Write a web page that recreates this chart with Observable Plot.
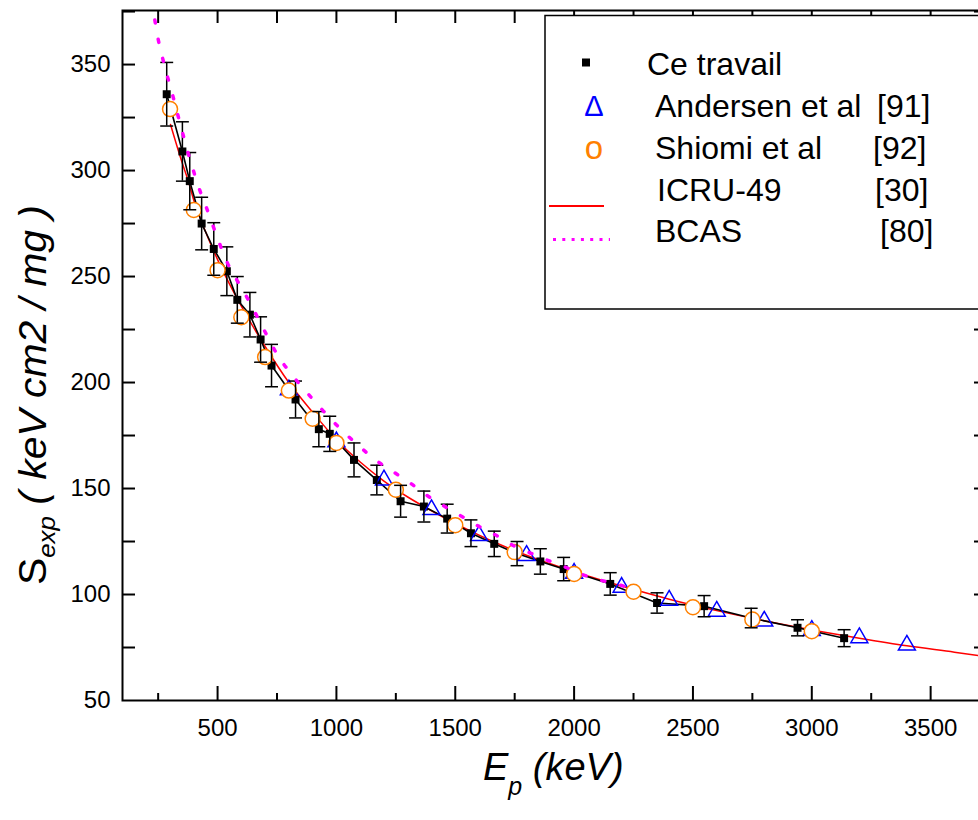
<!DOCTYPE html>
<html><head><meta charset="utf-8">
<script src="https://cdn.jsdelivr.net/npm/d3@7"></script>
<script src="https://cdn.jsdelivr.net/npm/@observablehq/plot@0.6"></script>
<style>
html,body{margin:0;padding:0;background:#fff;overflow:hidden;}
#chart svg{overflow:hidden;display:block;}
</style>
</head><body><div id="chart"></div>
<script>
// ---- Data ----
// Ce travail (this work) with error bars
const ceE   = [286, 352, 383, 433, 484, 539, 583, 636, 681, 727, 828, 926, 972, 1074, 1170, 1270, 1368, 1466, 1566, 1664, 1760, 1858, 1956, 2152, 2349, 2547, 2745, 2940, 3136];
const ceS   = [336, 309, 295, 275, 263, 252.5, 239, 232, 220.3, 208, 192, 178, 175.8, 163.5, 154, 144, 141.5, 135.8, 128.9, 123.9, 119.3, 115.6, 112, 105, 96, 94.5, 88.9, 84.3, 79.4];
const ceErr = [15, 14, 13.5, 12.4, 12.4, 11.5, 11, 10.5, 10.7, 10, 8.7, 8.3, 8.3, 8, 7, 7.5, 7.3, 6.8, 6.3, 6, 5.7, 6, 5.5, 5.3, 4.8, 5, 4.6, 3.8, 4];
// Andersen et al [91]
const andE = [800, 1000, 1200, 1400, 1600, 1800, 2000, 2200, 2400, 2600, 2800, 3000, 3200, 3400];
const andS = [196.5, 172, 154, 140, 127.8, 118.4, 110, 103.4, 97.3, 92.1, 87.4, 83, 79.6, 76.1];
// Shiomi et al [92]
const shiE = [300, 400, 500, 600, 700, 800, 900, 1000, 1250, 1500, 1750, 2000, 2250, 2500, 2750, 3000];
const shiS = [329, 281.4, 253, 230.8, 212, 196.2, 182.9, 171.5, 149.4, 132.7, 120, 109.7, 101.3, 94, 88.2, 82.7];
// ICRU-49 [30]
const icruE = [302, 350, 376, 400, 450, 500, 600, 700, 800, 900, 1000, 1100, 1200, 1300, 1400, 1500, 1600, 1700, 1800, 1900, 2000, 2200, 2400, 2600, 2800, 3000, 3200, 3400, 3600, 3714];
const icruS = [321.7, 304, 295.3, 286, 271, 258, 236, 217, 200, 186, 173, 162.5, 153.5, 146, 139.5, 133.5, 128, 123, 118.5, 114.5, 110.7, 104, 97.8, 92.4, 87.6, 83.3, 79.4, 75.8, 72.8, 71.0];
// BCAS [80]
const bcasE = [236, 250, 267, 288, 310, 330, 351, 372, 395, 421, 450, 478, 507, 539, 583, 628, 668, 710, 752, 808, 876, 946, 1018, 1090, 1164, 1238, 1311, 1383, 1456, 1528, 1602, 1674, 1746, 1819, 1892, 1963, 2036, 2109, 2183, 2256];
const bcasS = [371, 362, 353.8, 344.8, 336, 327.4, 318.5, 309.9, 301.2, 292, 283.5, 274.8, 266, 257, 248, 239.3, 230.8, 221.7, 213, 204.3, 195.3, 186.4, 178, 170.6, 163.5, 158, 152.5, 146.6, 141.5, 136.8, 132, 127.8, 123, 119.4, 116, 112.9, 109.4, 106.8, 104.8, 102];
// Axes
const xTicks = [500, 1000, 1500, 2000, 2500, 3000, 3500];
const xMinor = [250, 750, 1250, 1750, 2250, 2750, 3250];
const xTop   = [250, 500, 750, 1000, 1250, 1500, 1750, 2000, 2250, 2500, 2750, 3000, 3250, 3500];
const yTicks = [50, 100, 150, 200, 250, 300, 350];
const yAll   = [75, 100, 125, 150, 175, 200, 225, 250, 275, 300, 325, 350, 375];
const legendNames = ["Ce travail", "Andersen et al", "Shiomi et al", "ICRU-49", "BCAS"];
const legendRefs  = ["", "[91]", "[92]", "[30]", "[80]"];

// ---- tables ----
const ce   = ceE.map((E, i) => ({E, S: ceS[i], err: ceErr[i]}));
const and  = andE.map((E, i) => ({E, S: andS[i]}));
const shi  = shiE.map((E, i) => ({E, S: shiS[i]}));
const icru = icruE.map((E, i) => ({E, S: icruS[i]}));
const bcas = bcasE.map((E, i) => ({E, S: bcasS[i]}));

const FONT = "'Liberation Sans', Arial, Helvetica, sans-serif";
const W = 978, H = 820, ML = 122, MT = 10, MB = 120, MR = -3;
const FW = W - ML - MR, FH = H - MT - MB;

const capSymbol = {draw(ctx, size) { const w = Math.sqrt(size) / 2; ctx.moveTo(-w, 0); ctx.lineTo(w, 0); }};

const plot = Plot.plot({
  width: W, height: H,
  marginLeft: ML, marginTop: MT, marginBottom: MB, marginRight: MR,
  style: {fontFamily: FONT, background: "white", overflow: "hidden"},
  x: {domain: [100, 3714]},
  y: {domain: [50, 375.5]},
  marks: [
    Plot.line(icru, {x: "E", y: "S", stroke: "#ff0000", strokeWidth: 1.5, curve: "monotone-x", clip: true}),
    Plot.line(ce, {x: "E", y: "S", stroke: "black", strokeWidth: 1.6}),
    Plot.dot(ce, {x: "E", y: "S", symbol: "square", r: 4.5, fill: "black"}),
    Plot.dot(and, {x: "E", y: "S", symbol: "triangle", r: 6.3, stroke: "#0000ff", strokeWidth: 1.5, fill: "none"}),
    Plot.dot(shi, {x: "E", y: "S", r: 7.5, stroke: "#ff8000", strokeWidth: 1.5, fill: "white"}),
    Plot.ruleX(ce, {x: "E", y1: d => d.S - d.err, y2: d => d.S + d.err, stroke: "black", strokeWidth: 1.5}),
    Plot.dot(ce, {x: "E", y: d => d.S - d.err, symbol: capSymbol, r: 7.3, stroke: "black", strokeWidth: 1.5}),
    Plot.dot(ce, {x: "E", y: d => d.S + d.err, symbol: capSymbol, r: 7.3, stroke: "black", strokeWidth: 1.5}),
    Plot.line(bcas, {x: "E", y: "S", stroke: "#ff00ff", strokeWidth: 3.5, strokeDasharray: "3,16.5", curve: "monotone-x"}),
    // frame & ticks (inward)
    Plot.frame({stroke: "black", strokeWidth: 2}),
    Plot.tickX(xTicks, {x: d => d, insetTop: FH - 14, stroke: "black", strokeWidth: 2}),
    Plot.tickX(xMinor, {x: d => d, insetTop: FH - 7, stroke: "black", strokeWidth: 2}),
    Plot.tickX(xTop, {x: d => d, insetBottom: FH - 13, stroke: "black", strokeWidth: 2}),
    Plot.tickY(yAll, {y: d => d, insetRight: FW - 13, stroke: "black", strokeWidth: 2}),
    Plot.tickY(yAll, {y: d => d, insetLeft: FW - 7, stroke: "black", strokeWidth: 2}),
    Plot.axisX({ticks: xTicks, tickSize: 0, tickPadding: 18, tickFormat: d => String(d), fontSize: 24, label: null}),
    Plot.axisY({ticks: yTicks, tickSize: 0, tickPadding: 12, tickFormat: d => String(d), fontSize: 24, label: null})
  ]
});
document.getElementById("chart").appendChild(plot);

// ---- axis titles & legend (text) ----
const svg = d3.select(plot);
const xl = svg.append("text").attr("x", 483).attr("y", 780).attr("font-family", FONT)
  .attr("text-anchor", "start").attr("font-style", "italic").attr("font-size", 38).attr("fill", "black");
xl.append("tspan").text("E");
xl.append("tspan").attr("font-size", 25).attr("dy", 15).text("p");
xl.append("tspan").attr("dy", -15).text(" (keV)");

const yl = svg.append("text").attr("transform", "translate(46,585) rotate(-90)")
  .attr("text-anchor", "start").attr("font-family", FONT).attr("font-size", 38).attr("fill", "black")
  .attr("textLength", 380).attr("lengthAdjust", "spacingAndGlyphs");
yl.append("tspan").text("S");
yl.append("tspan").attr("font-size", 24).attr("font-style", "italic").attr("dy", 9).text("exp");
yl.append("tspan").attr("font-style", "italic").attr("dy", -9).text(" ( keV cm2 / mg )");

const lg = svg.append("g").attr("font-family", FONT).attr("fill", "black").attr("text-anchor", "start");
lg.append("rect").attr("x", 545).attr("y", 15.5).attr("width", 520).attr("height", 293.5)
  .attr("fill", "white").attr("stroke", "black").attr("stroke-width", 1.5);
const base = [75, 117, 159, 201, 242];
const nameX = [647, 655, 655, 657, 655];
const refX = [0, 877, 873, 875, 880];
legendNames.forEach((n, i) => {
  lg.append("text").attr("x", nameX[i]).attr("y", base[i]).attr("font-size", 32).text(n);
  if (legendRefs[i]) lg.append("text").attr("x", refX[i]).attr("y", base[i]).attr("font-size", 32).text(legendRefs[i]);
});
lg.append("rect").attr("x", 582).attr("y", 58.5).attr("width", 8).attr("height", 8).attr("fill", "black");
lg.append("text").attr("x", 594).attr("y", 116).attr("text-anchor", "middle").attr("font-size", 29).attr("fill", "#0000ff").text("Δ");
lg.append("text").attr("x", 594).attr("y", 159).attr("text-anchor", "middle").attr("font-size", 33).attr("fill", "#ff8000").text("o");
lg.append("line").attr("x1", 549).attr("x2", 604).attr("y1", 206).attr("y2", 206).attr("stroke", "#ff0000").attr("stroke-width", 2.2);
lg.append("line").attr("x1", 553).attr("x2", 610).attr("y1", 239.5).attr("y2", 239.5).attr("stroke", "#ff00ff").attr("stroke-width", 3).attr("stroke-dasharray", "3,6.3");
</script>
</body></html>
